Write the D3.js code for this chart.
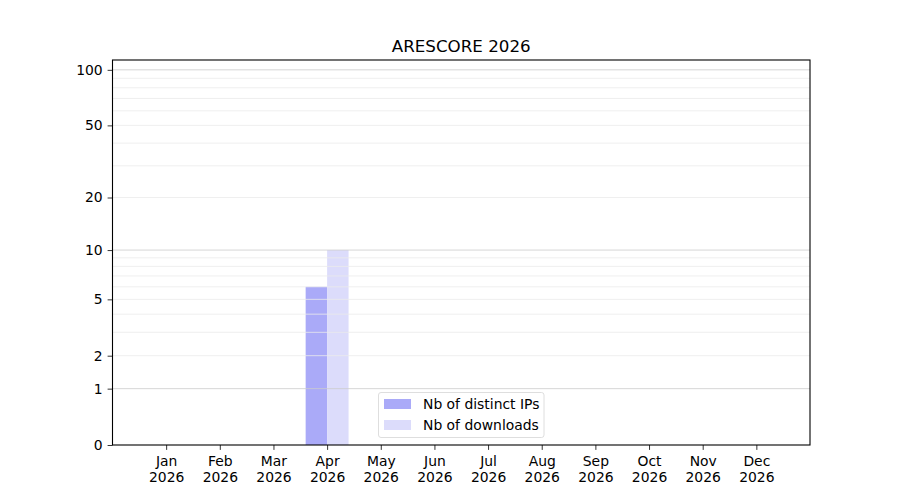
<!DOCTYPE html>
<html>
<head>
<meta charset="utf-8">
<script src="https://cdn.jsdelivr.net/npm/d3@7"></script>
<style>
  body { margin: 0; background: #fff; }
  svg text { font-family: "DejaVu Sans", sans-serif; fill: #000; }
</style>
</head>
<body>
<div id="chart"></div>
<script>
var months = ["Jan", "Feb", "Mar", "Apr", "May", "Jun", "Jul", "Aug", "Sep", "Oct", "Nov", "Dec"];
var year = "2026";
var distinctIps = [0, 0, 0, 6, 0, 0, 0, 0, 0, 0, 0, 0];
var downloads = [0, 0, 0, 10, 0, 0, 0, 0, 0, 0, 0, 0];
var yTicks = [0, 1, 2, 5, 10, 20, 50, 100];
var majorGrid = [1, 10, 100];
var minorGrid = [2, 3, 4, 5, 6, 7, 8, 9, 20, 30, 40, 50, 60, 70, 80, 90];
var seriesNames = ["Nb of distinct IPs", "Nb of downloads"];

var width = 900,
    height = 500,
    plotLeft = 112.5,
    plotRight = 810,
    plotTop = 60,
    plotBottom = 445,
    barWidth = 0.4,
    ipColor = "#aaaaf8",
    dlColor = "#dcdcfb",
    tickSize = 4.9,
    fontSize = 13.9;

var svg = d3.select("#chart")
    .append("svg")
    .attr("width", width)
    .attr("height", height);

var x = d3.scaleLinear()
    .domain([-1, 12])
    .range([plotLeft, plotRight]);

var y = d3.scaleSymlog()
    .constant(1)
    .domain([0, 113])
    .range([plotBottom, plotTop]);

// Bars: distinct IPs left of the tick, downloads right of it
svg.append("g").selectAll("rect")
    .data(distinctIps)
    .join("rect")
    .attr("x", function (d, i) { return x(i - barWidth); })
    .attr("y", function (d) { return y(d); })
    .attr("width", x(barWidth) - x(0))
    .attr("height", function (d) { return y(0) - y(d); })
    .style("fill", ipColor);

svg.append("g").selectAll("rect")
    .data(downloads)
    .join("rect")
    .attr("x", function (d, i) { return x(i); })
    .attr("y", function (d) { return y(d); })
    .attr("width", x(barWidth) - x(0))
    .attr("height", function (d) { return y(0) - y(d); })
    .style("fill", dlColor);

// Grid lines (above bars, as in the original)
svg.append("g").selectAll("line")
    .data(minorGrid)
    .join("line")
    .attr("x1", plotLeft)
    .attr("x2", plotRight)
    .attr("y1", function (d) { return y(d); })
    .attr("y2", function (d) { return y(d); })
    .style("stroke", "#ebebeb")
    .style("stroke-width", "0.8px");

svg.append("g").selectAll("line")
    .data(majorGrid)
    .join("line")
    .attr("x1", plotLeft)
    .attr("x2", plotRight)
    .attr("y1", function (d) { return y(d); })
    .attr("y2", function (d) { return y(d); })
    .style("stroke", "#cccccc")
    .style("stroke-width", "0.8px");

// Frame
svg.append("rect")
    .attr("x", plotLeft)
    .attr("y", plotTop)
    .attr("width", plotRight - plotLeft)
    .attr("height", plotBottom - plotTop)
    .style("fill", "none")
    .style("stroke", "#000")
    .style("stroke-width", "1.1px");

// Y axis
var yAxis = d3.axisLeft(y)
    .tickValues(yTicks)
    .tickFormat(d3.format("d"))
    .tickSize(tickSize)
    .tickPadding(4.9);

var gy = svg.append("g")
    .attr("transform", "translate(" + plotLeft + ",0)")
    .call(yAxis);
gy.select(".domain").remove();
gy.selectAll("line").style("stroke", "#000").style("stroke-width", "0.8px");
gy.selectAll("text").style("font-size", fontSize + "px").style("font-family", "DejaVu Sans");

// X axis, two-line labels (month / year)
var xAxis = d3.axisBottom(x)
    .tickValues(d3.range(months.length))
    .tickFormat(function (i) { return months[i]; })
    .tickSize(tickSize)
    .tickPadding(4.9);

var gx = svg.append("g")
    .attr("transform", "translate(0," + plotBottom + ")")
    .call(xAxis);
gx.select(".domain").remove();
gx.selectAll("line").style("stroke", "#000").style("stroke-width", "0.8px");
gx.selectAll("text")
    .style("font-size", fontSize + "px")
    .style("font-family", "DejaVu Sans")
    .attr("y", 21)
    .attr("dy", null)
    .each(function (i) {
        var t = d3.select(this);
        t.text(null);
        t.append("tspan").attr("x", 0).attr("dy", 0).text(months[i]);
        t.append("tspan").attr("x", 0).attr("dy", 15.7).text(year);
    });

// Title
svg.append("text")
    .attr("x", (plotLeft + plotRight) / 2)
    .attr("y", 52)
    .attr("text-anchor", "middle")
    .style("font-size", "16.7px")
    .text("ARESCORE " + year);

// Legend
var legend = svg.append("g").attr("transform", "translate(378.5,392.5)");

legend.append("rect")
    .attr("width", 165.5)
    .attr("height", 45)
    .attr("rx", 2.5)
    .style("fill", "#fff")
    .style("fill-opacity", 0.8)
    .style("stroke", "#d6d6d6")
    .style("stroke-width", "0.8px");

[ipColor, dlColor].forEach(function (c, k) {
    legend.append("rect")
        .attr("x", 5.5)
        .attr("y", 6.5 + k * 21)
        .attr("width", 27)
        .attr("height", 10)
        .style("fill", c);

    legend.append("text")
        .attr("x", 44.5)
        .attr("y", 16.5 + k * 21)
        .style("font-size", fontSize + "px")
        .text(seriesNames[k]);
});
</script>
</body>
</html>
